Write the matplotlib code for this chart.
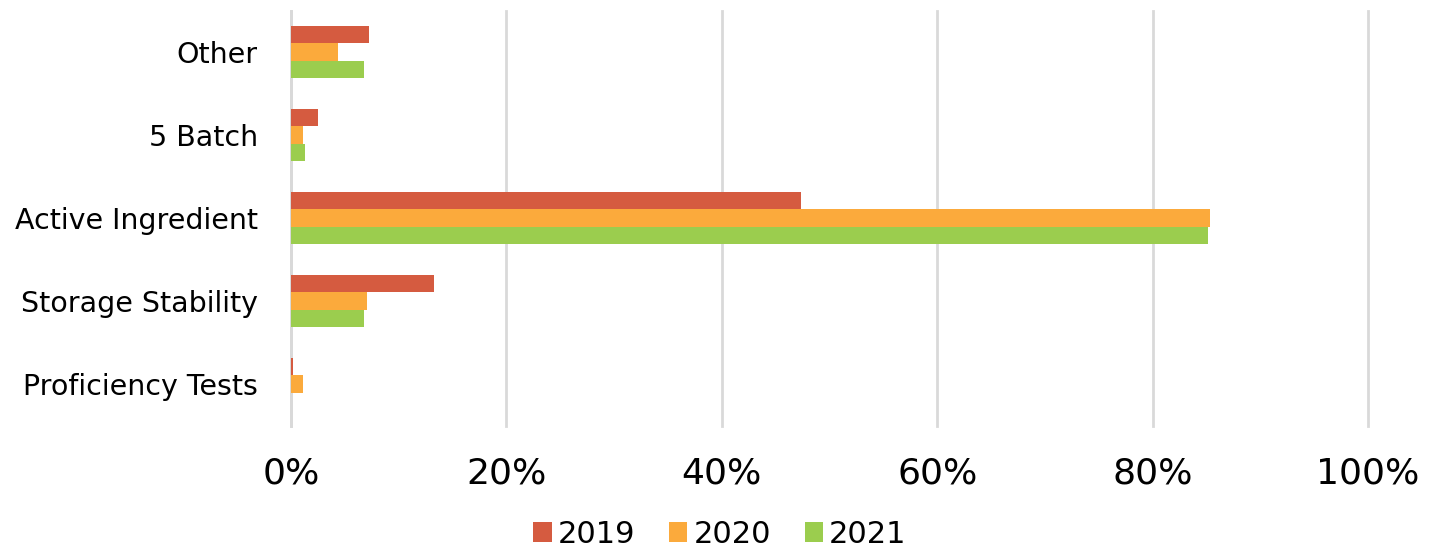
import matplotlib
matplotlib.use("Agg")
import matplotlib.pyplot as plt
import numpy as np

categories = ["Proficiency Tests", "Storage Stability", "Active Ingredient", "5 Batch", "Other"]
years = ["2019", "2020", "2021"]
v2019 = [0.15, 13.3, 47.4, 2.5, 7.2]
v2020 = [1.1, 7.1, 85.3, 1.1, 4.4]
v2021 = [0.0, 6.8, 85.1, 1.3, 6.8]
colors = ["#D55B40", "#FBAA3C", "#9BCD4E"]
xticks = [0, 20, 40, 60, 80, 100]

plt.rcParams['font.family'] = ['DejaVu Sans']

fig = plt.figure(figsize=(14.4, 5.54), dpi=100)
ax = fig.add_axes([291/1440, (554-425.5)/554, (1368-291)/1440, 415/554])

y = np.arange(len(categories))
h = 0.205
for i, (vals, c, lab) in enumerate(zip([v2019, v2020, v2021], colors, years)):
    ax.barh(y + (1 - i) * h, vals, height=h, color=c, label=lab, zorder=3)

ax.set_xlim(0, 100)
ax.set_ylim(-0.5, len(categories) - 0.5)
ax.set_yticks(y)
ax.set_yticklabels(categories, fontsize=20.5)
ax.set_xticks(xticks)
ax.set_xticklabels([f"{t}%" for t in xticks], fontsize=26)
ax.tick_params(axis='both', length=0)
ax.tick_params(axis='x', pad=22)
ax.tick_params(axis='y', pad=24)
ax.grid(axis='x', color='#D9D9D9', linewidth=2, zorder=0)
for gl in ax.get_xgridlines():
    gl.set_clip_on(False)
for s in ['top', 'right', 'bottom']:
    ax.spines[s].set_visible(False)
ax.spines['left'].set_color('#D9D9D9')
ax.spines['left'].set_linewidth(2)

leg = fig.legend(loc='lower center', bbox_to_anchor=(0.5, -0.04), ncol=3, frameon=False,
                 fontsize=22, handlelength=0.6, handleheight=0.6, handletextpad=0.2,
                 columnspacing=1.1)

fig.savefig("out.png", dpi=100)
